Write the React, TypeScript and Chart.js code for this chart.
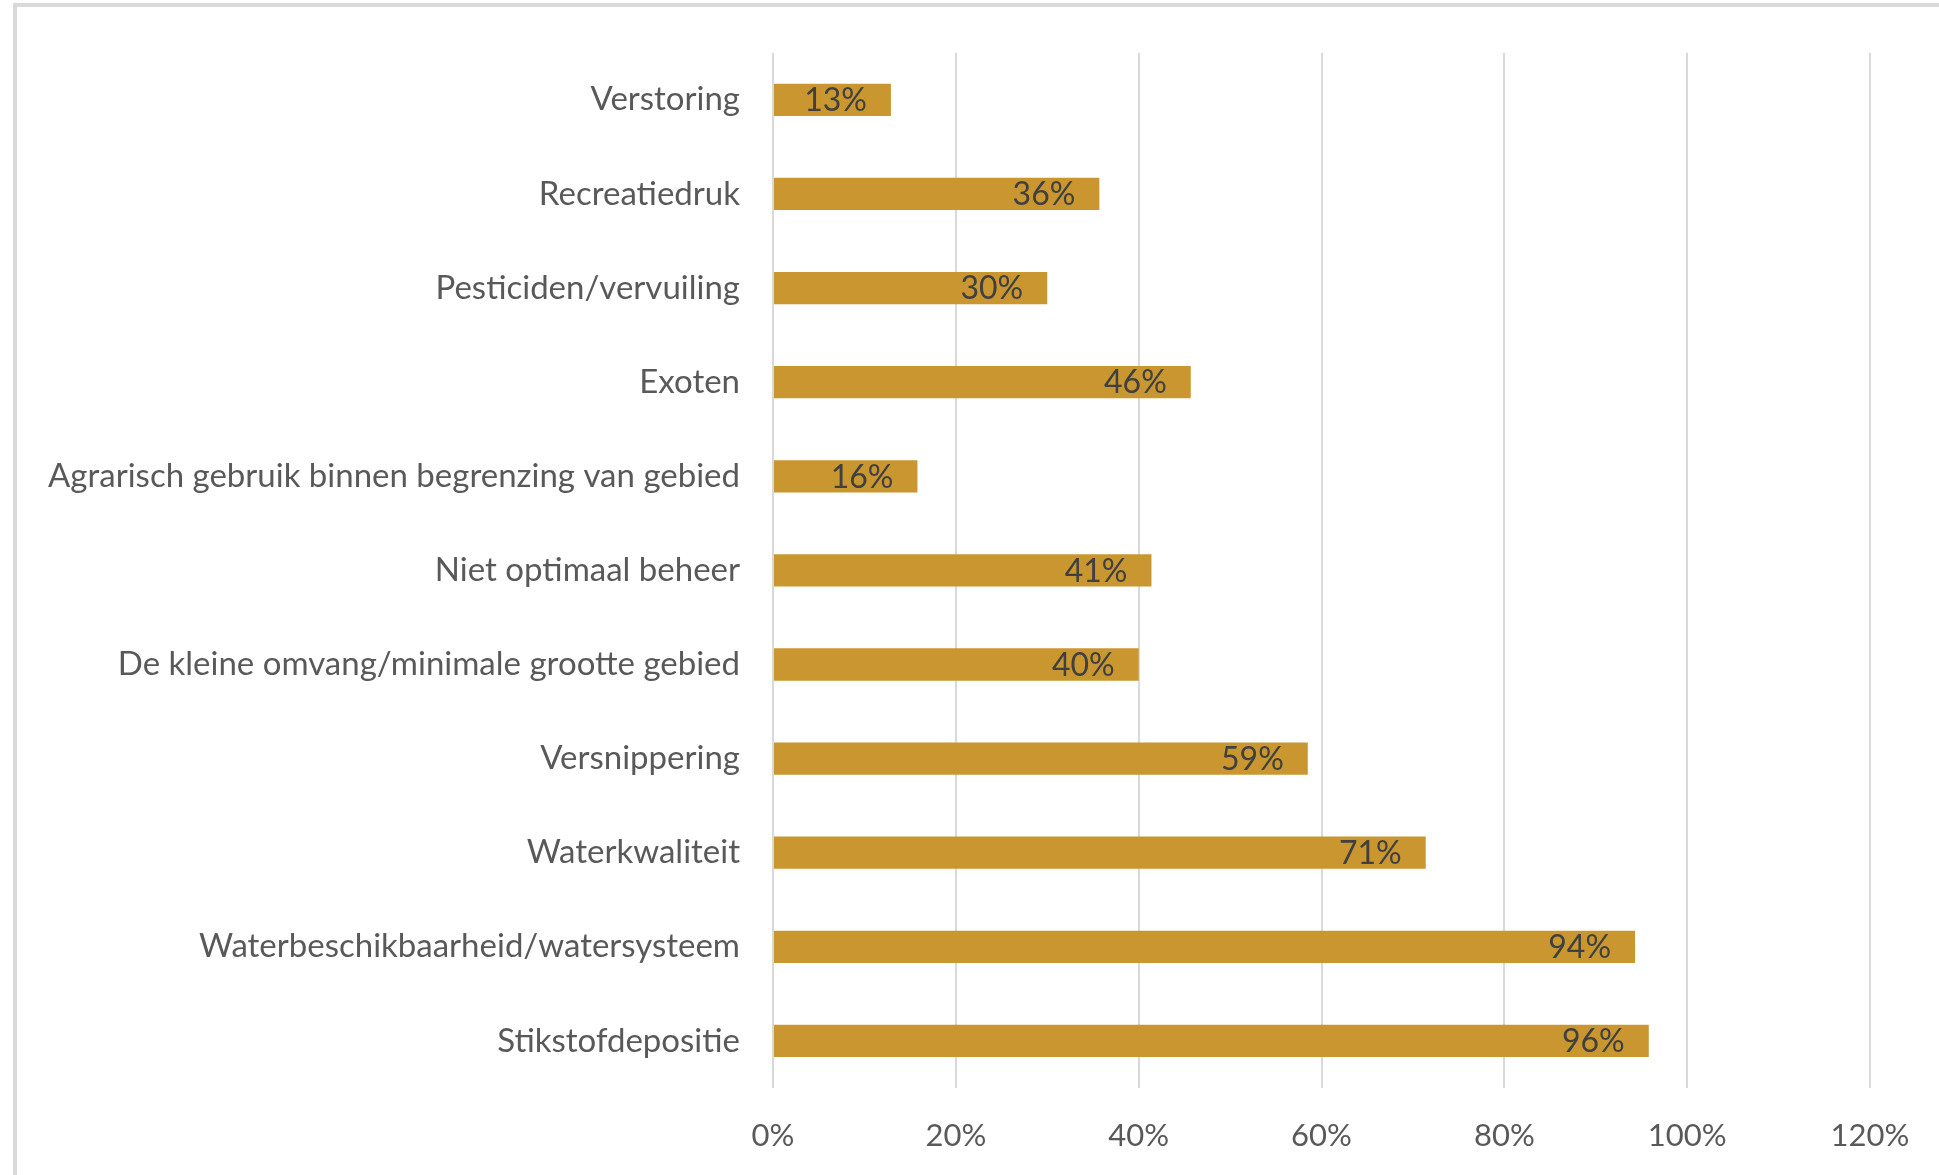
import React, { useEffect, useRef } from "react";
import { Chart, registerables } from "chart.js";

Chart.register(...registerables);

const categories = [
  "Verstoring",
  "Recreatiedruk",
  "Pesticiden/vervuiling",
  "Exoten",
  "Agrarisch gebruik binnen begrenzing van gebied",
  "Niet optimaal beheer",
  "De kleine omvang/minimale grootte gebied",
  "Versnippering",
  "Waterkwaliteit",
  "Waterbeschikbaarheid/watersysteem",
  "Stikstofdepositie",
];

const values = [12.9, 35.7, 30.0, 45.7, 15.8, 41.4, 40.0, 58.5, 71.4, 94.3, 95.8];

const valueLabels = ["13%", "36%", "30%", "46%", "16%", "41%", "40%", "59%", "71%", "94%", "96%"];

const xTicks = [0, 20, 40, 60, 80, 100, 120];

const FONT = "Lato, 'Open Sans', sans-serif";

const dataLabelPlugin = {
  id: "insideEndLabels",
  afterDatasetsDraw(chart: any) {
    const ctx = chart.ctx;
    const meta = chart.getDatasetMeta(0);
    ctx.save();
    ctx.font = `32px ${FONT}`;
    ctx.fillStyle = "#404040";
    ctx.textAlign = "right";
    ctx.textBaseline = "middle";
    meta.data.forEach((bar: any, i: number) => {
      ctx.fillText(valueLabels[i], bar.x - 24, bar.y + 1);
    });
    ctx.restore();
  },
};

export default function App() {
  const ref = useRef<HTMLCanvasElement | null>(null);

  useEffect(() => {
    if (!ref.current) return;
    const chart = new Chart(ref.current, {
      type: "bar",
      data: {
        labels: categories,
        datasets: [
          {
            data: values,
            backgroundColor: "#C9962F",
            borderWidth: 0,
            categoryPercentage: 1,
            barPercentage: 0.343,
          },
        ],
      },
      options: {
        indexAxis: "y",
        animation: false,
        responsive: false,
        devicePixelRatio: 1,
        layout: { padding: { left: 0, right: 69, top: 48, bottom: 0 } },
        plugins: {
          legend: { display: false },
          tooltip: { enabled: false },
        },
        scales: {
          x: {
            min: 0,
            max: 120,
            afterBuildTicks: (scale: any) => {
              scale.ticks = xTicks.map((v) => ({ value: v }));
            },
            afterFit: (scale: any) => {
              scale.height = 1175 - 1088;
            },
            grid: {
              color: "#d9d9d9",
              lineWidth: 2,
              drawTicks: false,
            },
            border: { display: false },
            ticks: {
              padding: 29,
              color: "#595959",
              font: { family: FONT, size: 31 },
              callback: (v: any) => `${v}%`,
            },
          },
          y: {
            afterFit: (scale: any) => {
              scale.width = 773;
            },
            grid: { display: false, drawTicks: false },
            border: { display: false },
            ticks: {
              padding: 33,
              color: "#595959",
              font: { family: FONT, size: 33 },
            },
          },
        },
      },
      plugins: [dataLabelPlugin],
    });
    return () => chart.destroy();
  }, []);

  return (
    <div
      style={{
        position: "fixed",
        left: 0,
        top: 0,
        width: 1939,
        height: 1175,
        overflow: "hidden",
        background: "#ffffff",
      }}
    >
      <div
        style={{
          position: "absolute",
          left: 13,
          top: 3,
          width: 3000,
          height: 3000,
          borderLeft: "4px solid #d9d9d9",
          borderTop: "4px solid #d9d9d9",
        }}
      />
      <canvas
        ref={ref}
        width={1939}
        height={1175}
        style={{ position: "absolute", left: 0, top: 0, width: 1939, height: 1175 }}
      />
    </div>
  );
}
